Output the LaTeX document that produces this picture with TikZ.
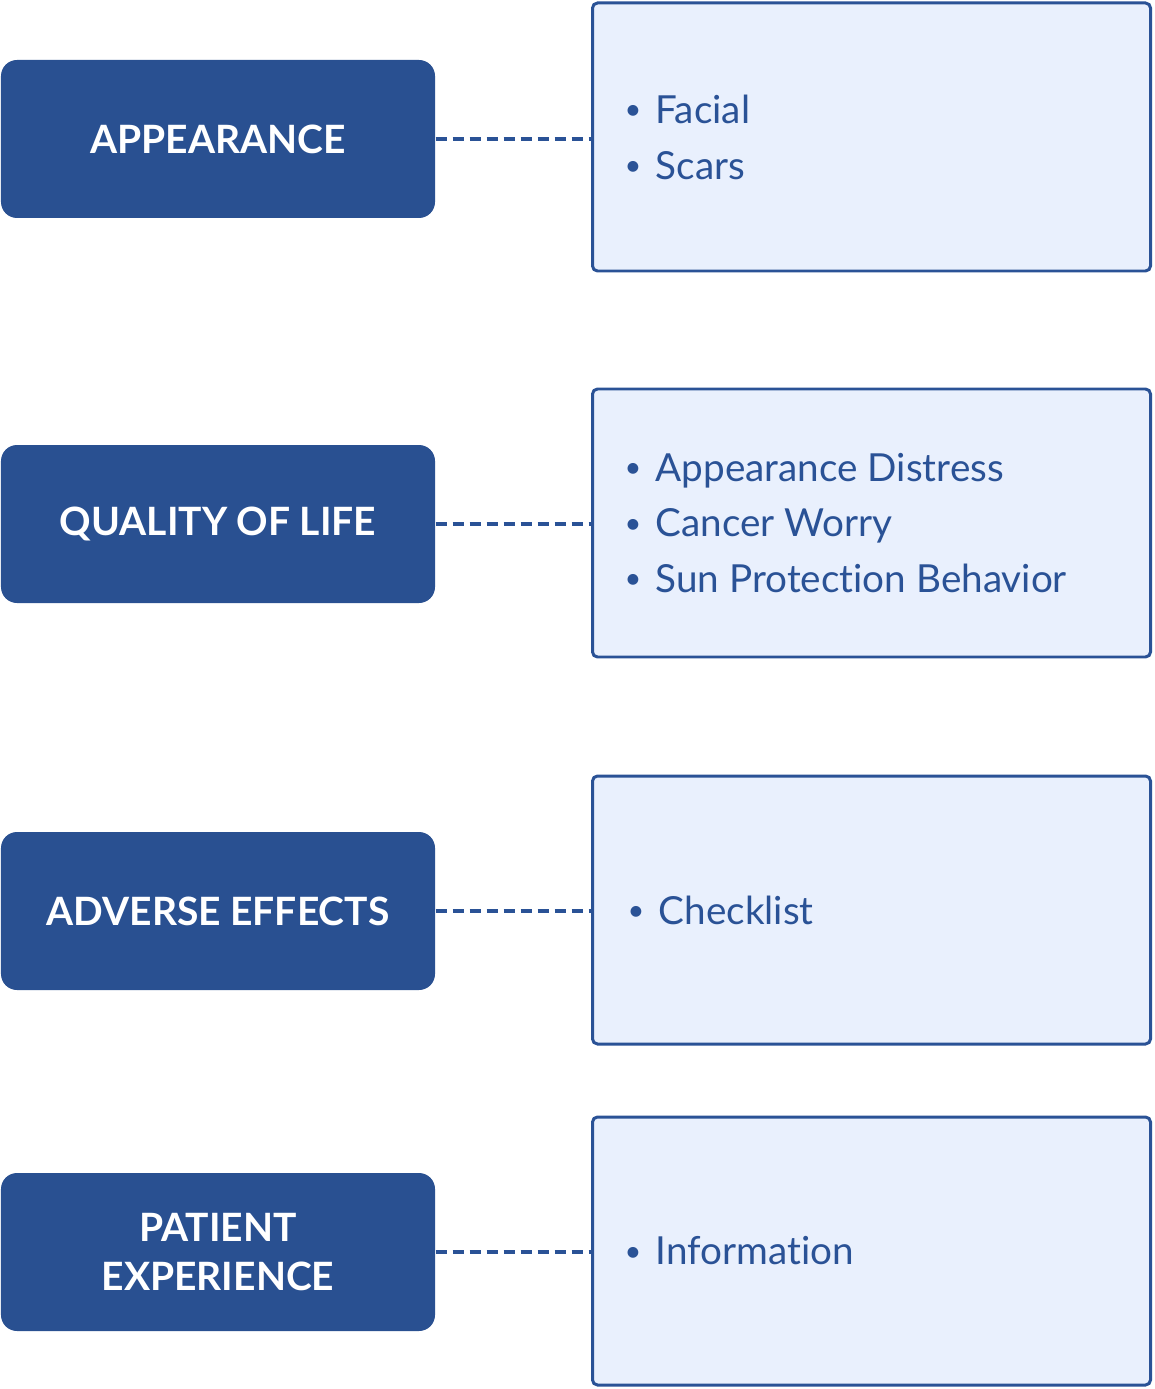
\documentclass[tikz,border=0pt]{standalone}
\usepackage{fontspec}
\setmainfont{Lato}[Ligatures=NoCommon]
\usetikzlibrary{positioning}
\definecolor{navy}{RGB}{41,80,145}
\definecolor{ice}{RGB}{233,240,253}
\definecolor{ink}{RGB}{42,82,150}

\tikzset{
  topic/.style={draw=none, fill=navy, rounded corners=0.16cm, minimum width=4.34cm, minimum height=1.58cm, text=white, font=\fontsize{11.1}{13.7}\selectfont\bfseries, align=center, inner sep=0},
  panel/.style={draw=ink, line width=0.85pt, fill=ice, rounded corners=0.05cm, minimum width=5.58cm, minimum height=2.68cm, inner sep=0},
  entries/.style={text=ink, font=\fontsize{11}{15.9}\selectfont, align=left, inner sep=0},
  link/.style={draw=ink, line width=0.9pt, dash pattern=on 0.115cm off 0.055cm}
}
\newcommand{\entry}{\makebox[0.31cm][l]{\raisebox{0.2ex}{\scalebox{0.75}{•}}}}

\begin{document}
\begin{tikzpicture}
        \useasboundingbox (0,0) rectangle (11.54,-13.89);

        % categories
        \node[topic] (appearance) at (2.18,-1.39) {APPEARANCE};
        \node[topic] (quality) at (2.18,-5.24) {QUALITY OF LIFE};
        \node[topic] (adverse) at (2.18,-9.11) {ADVERSE EFFECTS};
        \node[topic] (patient) at (2.18,-12.52) {PATIENT\\EXPERIENCE};

        % panels
        \node[panel] (appearanceBox) at (8.715,-1.37) {};
        \node[panel] (qualityBox) at (8.715,-5.23) {};
        \node[panel] (adverseBox) at (8.715,-9.10) {};
        \node[panel] (patientBox) at (8.715,-12.51) {};

        % items
        \node[entries, right=0.33cm of appearanceBox.west] (appearanceList) {\entry Facial\\\entry Scars};
        \node[entries, right=0.33cm of qualityBox.west] (qualityList) {\entry Appearance Distress\\\entry Cancer Worry\\\entry Sun Protection Behavior};
        \node[entries, right=0.36cm of adverseBox.west] (adverseList) {\entry Checklist};
        \node[entries, right=0.33cm of patientBox.west] (patientList) {\entry Information};

        % links
        \foreach \name in {appearance,quality,adverse,patient}{
            \draw[link] (\name.east) -- (\name.east -| \name Box.west);
        }
\end{tikzpicture}
\end{document}
